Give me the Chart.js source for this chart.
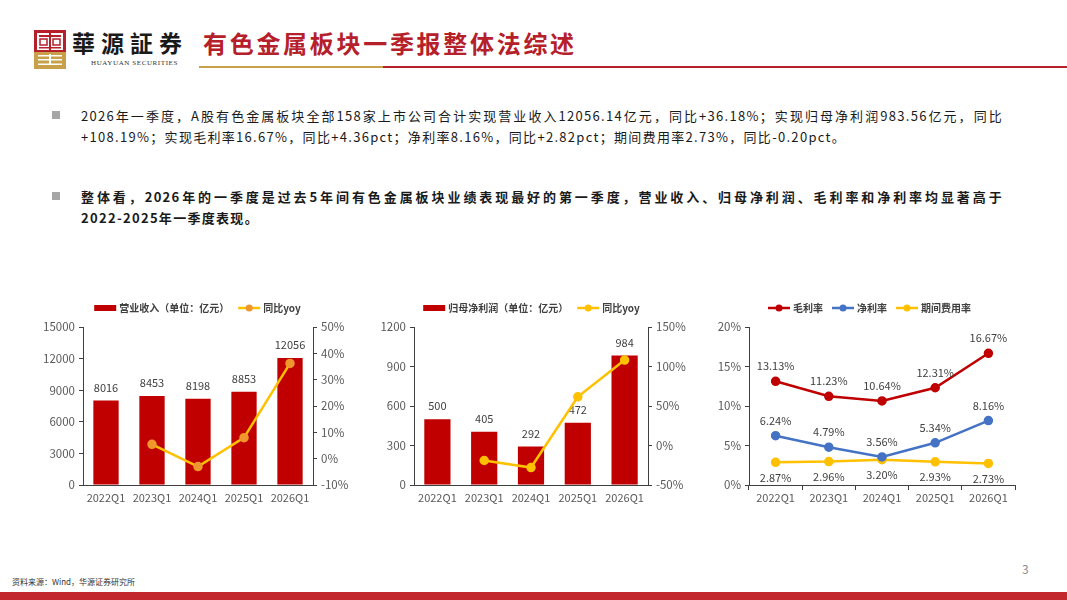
<!DOCTYPE html>
<html>
<head>
<meta charset="utf-8">
<script src="https://cdn.jsdelivr.net/npm/chart.js@4.4.1/dist/chart.umd.min.js"></script>
<style>
  body { margin: 0; width: 1067px; height: 600px; position: relative; overflow: hidden; background: #fff;
         font-family: "Noto Sans CJK SC", "Noto Sans", sans-serif; color: #1a1a1a; }
  .abs { position: absolute; }
  .brand { left: 72px; top: 27px; font-family: "Noto Sans CJK TC", "Noto Sans CJK SC", sans-serif; font-weight: 700;
           font-size: 23px; letter-spacing: 6px; color: #1a1a1a; line-height: 30px; }
  .brand-en { left: 91px; top: 59px; font-family: "Liberation Serif", serif; font-size: 7px; letter-spacing: 0.6px; color: #333; }
  .title { left: 203px; top: 26px; font-size: 24px; font-weight: 700; color: #b5202b; letter-spacing: 2.7px; line-height: 34px; }
  .rule-gold { left: 199px; top: 66px; width: 184px; height: 2px; background: #c9a04a; }
  .rule-red { left: 383px; top: 66px; width: 684px; height: 2px; background: #b5202b; }
  .bullet { left: 52px; width: 8px; height: 8px; background: #a6a6a6; }
  .para { left: 81px; font-size: 13px; line-height: 21px; letter-spacing: 1.3px; color: #1a1a1a; }
  .para .l1 { width: 922px; text-align: justify; text-align-last: justify; white-space: nowrap; }
  .para.bold { font-weight: 700; }
  .src { left: 12px; top: 576px; font-size: 8px; color: #333; }
  .page { left: 1022px; top: 560px; font-size: 12px; color: #8c8c8c; }
  .footbar { left: 0; top: 592px; width: 1067px; height: 8px; background: #c1272d; }
  canvas { position: absolute; }
</style>
</head>
<body>
<svg class="abs" style="left:34px;top:30px" width="32" height="39" viewBox="0 0 32 39">
  <rect x="0" y="0" width="32" height="22" fill="#b5202b"/>
  <rect x="3" y="3" width="26" height="17" fill="#fff"/>
  <rect x="5" y="5" width="22" height="2" fill="#b5202b"/>
  <rect x="15" y="3" width="2" height="17" fill="#b5202b"/>
  <rect x="6" y="9" width="7" height="6" fill="none" stroke="#b5202b" stroke-width="1.5"/>
  <rect x="19" y="9" width="7" height="6" fill="none" stroke="#b5202b" stroke-width="1.5"/>
  <rect x="5" y="17" width="22" height="1.5" fill="#b5202b"/>
  <rect x="0" y="22" width="32" height="17" fill="#c9a04a"/>
  <rect x="4" y="25" width="24" height="1.5" fill="#fff"/>
  <rect x="4" y="29" width="24" height="1.5" fill="#fff"/>
  <rect x="15" y="24" width="2" height="11" fill="#fff"/>
  <rect x="4" y="33.5" width="24" height="1.5" fill="#fff"/>
</svg>
<div class="abs brand">華源証券</div>
<div class="abs brand-en">HUAYUAN SECURITIES</div>
<div class="abs title">有色金属板块一季报整体法综述</div>
<div class="abs rule-gold"></div>
<div class="abs rule-red"></div>

<div class="abs bullet" style="top:111px"></div>
<div class="abs para" style="top:105px">
  <div class="l1">2026年一季度，A股有色金属板块全部158家上市公司合计实现营业收入12056.14亿元，同比+36.18%；实现归母净利润983.56亿元，同比</div>
  <div>+108.19%；实现毛利率16.67%，同比+4.36pct；净利率8.16%，同比+2.82pct；期间费用率2.73%，同比-0.20pct。</div>
</div>
<div class="abs bullet" style="top:192px"></div>
<div class="abs para bold" style="top:186px">
  <div class="l1">整体看，2026年的一季度是过去5年间有色金属板块业绩表现最好的第一季度，营业收入、归母净利润、毛利率和净利率均显著高于</div>
  <div>2022-2025年一季度表现。</div>
</div>

<canvas id="c1" style="left:40px;top:295px" width="320" height="215"></canvas>
<canvas id="c2" style="left:370px;top:295px" width="330" height="215"></canvas>
<canvas id="c3" style="left:700px;top:295px" width="330" height="215"></canvas>

<div class="abs page">3</div>
<div class="abs src">资料来源：Wind，华源证券研究所</div>
<div class="abs footbar"></div>

<script>
// 数据
const quarters = ['2022Q1', '2023Q1', '2024Q1', '2025Q1', '2026Q1'];
const revenue = [8016, 8453, 8198, 8853, 12056];
const revenueYoy = [null, 5.45, -3.02, 7.99, 36.18];
const netProfit = [500, 405, 292, 472, 984];
const netProfitYoy = [null, -19.0, -27.9, 61.6, 108.19];
const grossMargin = [13.13, 11.23, 10.64, 12.31, 16.67];
const netMargin = [6.24, 4.79, 3.56, 5.34, 8.16];
const expenseRatio = [2.87, 2.96, 3.20, 2.93, 2.73];

const FONT = '"Noto Sans CJK SC", "Noto Sans", sans-serif';
const AXIS = '#404040';
const TICK = '#595959';
const RED = '#c00000';
const GOLD = '#ffc000';
const BLUE = '#4472c4';

// 图例（画在图表上方）
const topLegend = {
  id: 'topLegend',
  afterDraw(chart, args, opts) {
    const ctx = chart.ctx;
    ctx.save();
    ctx.font = 'bold 10px ' + FONT;
    ctx.textBaseline = 'middle';
    const items = chart.data.datasets.map(ds => ({ ds, w: 26 + ctx.measureText(ds.label).width }));
    const gap = 8;
    const total = items.reduce((s, it) => s + it.w, 0) + gap * (items.length - 1);
    let x = opts.cx - total / 2;
    const y = opts.y;
    items.forEach(({ ds, w }) => {
      if (ds.type === 'bar') {
        ctx.fillStyle = ds.backgroundColor;
        ctx.fillRect(x, y - 3, 22, 6);
      } else {
        ctx.strokeStyle = ds.borderColor;
        ctx.lineWidth = 2.5;
        ctx.beginPath();
        ctx.moveTo(x, y);
        ctx.lineTo(x + 22, y);
        ctx.stroke();
        ctx.fillStyle = ds.pointBackgroundColor;
        ctx.beginPath();
        ctx.arc(x + 11, y, 3.5, 0, Math.PI * 2);
        ctx.fill();
      }
      ctx.fillStyle = '#404040';
      ctx.fillText(ds.label, x + 25, y + 0.5);
      x += w + gap;
    });
    ctx.restore();
  }
};

// 数据标签
const valueLabels = {
  id: 'valueLabels',
  afterDatasetDraw(chart, args) {
    const ds = chart.data.datasets[args.index];
    if (!ds.valuePos) return;
    const ctx = chart.ctx;
    ctx.save();
    ctx.font = '11px ' + FONT;
    ctx.fillStyle = '#404040';
    ctx.textAlign = 'center';
    ctx.textBaseline = 'middle';
    args.meta.data.forEach((el, i) => {
      const v = ds.data[i];
      if (v == null) return;
      const dy = ds.valuePos === 'below' ? 15 : (ds.type === 'bar' ? -13 : -15);
      const txt = ds.valueFmt ? ds.valueFmt(v) : String(v);
      ctx.fillText(txt, el.x, el.y + dy);
    });
    ctx.restore();
  }
};

function yAxis(pos, min, max, step, fmt, width) {
  return {
    position: pos, min: min, max: max,
    ticks: { stepSize: step, color: TICK, font: { size: 11.5, family: FONT }, padding: 4, callback: fmt },
    grid: { display: true, drawOnChartArea: false, drawTicks: true, tickLength: 4, color: AXIS },
    border: { display: true, color: AXIS },
    afterFit: s => { s.width = width; }
  };
}

function xAxis(withTicks) {
  return {
    offset: true,
    ticks: { color: TICK, font: { size: 11, family: FONT }, padding: 1, maxRotation: 0, autoSkip: false },
    grid: { display: withTicks, offset: true, drawOnChartArea: false, drawTicks: true, tickLength: 5, color: AXIS },
    border: { display: true, color: AXIS },
    afterFit: s => { s.height = 25; }
  };
}

const baseOptions = (legendCx, extraRight) => ({
  responsive: false,
  animation: false,
  layout: { padding: { top: 32, right: extraRight, left: 0, bottom: 0 } },
  plugins: { legend: { display: false }, tooltip: { enabled: false }, topLegend: { cx: legendCx, y: 13 } }
});

const pct0 = v => v + '%';

// 图1：营业收入
new Chart(document.getElementById('c1'), {
  type: 'bar',
  plugins: [topLegend, valueLabels],
  data: {
    labels: quarters,
    datasets: [
      { type: 'bar', label: '营业收入（单位：亿元）', data: revenue, backgroundColor: RED, yAxisID: 'y',
        categoryPercentage: 1, barPercentage: 0.55, order: 1, valuePos: 'above' },
      { type: 'line', label: '同比yoy', data: revenueYoy, borderColor: GOLD, borderWidth: 2.5,
        pointBackgroundColor: '#f0962f', pointBorderColor: '#f0962f', pointRadius: 3.5, yAxisID: 'y1', order: 0 }
    ]
  },
  options: Object.assign(baseOptions(158, 0), {
    scales: {
      x: xAxis(false),
      y: yAxis('left', 0, 15000, 3000, v => v, 43),
      y1: yAxis('right', -10, 50, 10, pct0, 47)
    }
  })
});

// 图2：归母净利润
new Chart(document.getElementById('c2'), {
  type: 'bar',
  plugins: [topLegend, valueLabels],
  data: {
    labels: quarters,
    datasets: [
      { type: 'bar', label: '归母净利润（单位：亿元）', data: netProfit, backgroundColor: RED, yAxisID: 'y',
        categoryPercentage: 1, barPercentage: 0.56, order: 1, valuePos: 'above' },
      { type: 'line', label: '同比yoy', data: netProfitYoy, borderColor: GOLD, borderWidth: 2.5,
        pointBackgroundColor: GOLD, pointBorderColor: GOLD, pointRadius: 3.5, yAxisID: 'y1', order: 0 }
    ]
  },
  options: Object.assign(baseOptions(162, 0), {
    scales: {
      x: xAxis(false),
      y: yAxis('left', 0, 1200, 300, v => v, 44),
      y1: yAxis('right', -50, 150, 50, pct0, 52)
    }
  })
});

// 图3：毛利率 / 净利率 / 期间费用率
const pct2 = v => v.toFixed(2) + '%';
const lineSet = (label, data, color, pos) => ({
  type: 'line', label: label, data: data, borderColor: color, borderWidth: 2.5,
  pointBackgroundColor: color, pointBorderColor: color, pointRadius: 3.5,
  valuePos: pos, valueFmt: pct2
});
new Chart(document.getElementById('c3'), {
  type: 'line',
  plugins: [topLegend, valueLabels],
  data: {
    labels: quarters,
    datasets: [
      lineSet('毛利率', grossMargin, RED, 'above'),
      lineSet('净利率', netMargin, BLUE, 'above'),
      lineSet('期间费用率', expenseRatio, GOLD, 'below')
    ]
  },
  options: Object.assign(baseOptions(170, 15), {
    scales: {
      x: xAxis(true),
      y: yAxis('left', 0, 20, 5, pct0, 49)
    }
  })
});
</script>
</body>
</html>
